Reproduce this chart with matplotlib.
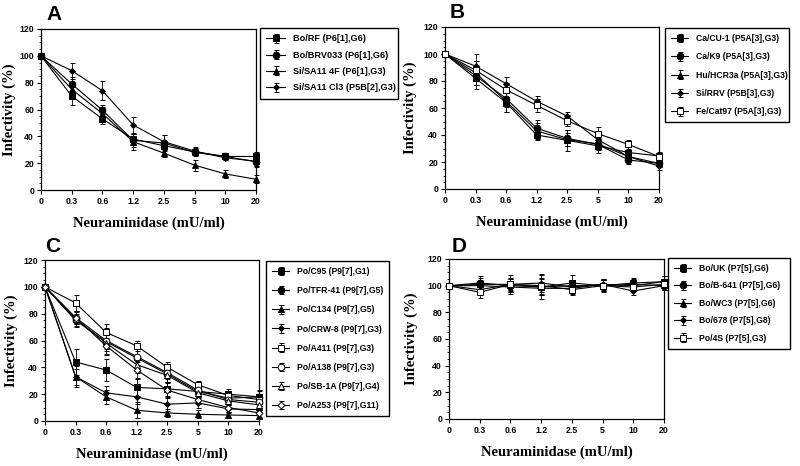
"""
Neuraminidase sensitivity of rotavirus strains, four panels.
"""

import matplotlib.pyplot as plt
from matplotlib.ticker import MultipleLocator

plt.rcParams["font.family"] = ["Liberation Sans", "DejaVu Sans"]

doses = ["0", "0.3", "0.6", "1.2", "2.5", "5", "10", "20"]

# Panel A
a_labels = ["Bo/RF (P6[1],G6)", "Bo/BRV033 (P6[1],G6)",
            "Si/SA11 4F (P6[1],G3)", "Si/SA11 Cl3 (P5B[2],G3)"]
a_vals = [
    [100, 70, 53, 38, 33, 28.5, 25, 25],
    [100, 79, 59.5, 37, 35, 28, 25, 21],
    [100, 75, 57, 36, 27.5, 18.5, 12, 8],
    [100, 89, 74, 48.5, 36, 29, 24, 21.5],
]
a_errs = [
    [0, 7, 4, 4, 3, 3, 2, 3],
    [0, 5, 4, 5, 6, 2, 2, 3],
    [0, 4, 5, 6, 3, 4, 3, 3],
    [0, 6, 7, 6, 5, 3, 2, 4],
]

# Panel B
b_labels = ["Ca/CU-1 (P5A[3],G3)", "Ca/K9 (P5A[3],G3)",
            "Hu/HCR3a (P5A[3],G3)", "Si/RRV (P5B[3],G3)",
            "Fe/Cat97 (P5A[3],G3)"]
b_vals = [
    [100, 82, 64, 40, 36, 32, 27, 24.5],
    [100, 84, 67, 45, 37.5, 33, 21.5, 19],
    [100, 86, 65, 43, 36.5, 33.5, 24, 19],
    [100, 91, 78, 65, 54, 36.5, 24, 17],
    [100, 88, 73.5, 62, 50.5, 41, 33, 24],
]
b_errs = [
    [0, 8, 7, 4, 8, 5, 4, 3],
    [0, 7, 6, 6, 6, 4, 3, 3],
    [0, 9, 8, 6, 5, 4, 4, 3],
    [0, 9, 5, 4, 3, 5, 3, 3],
    [0, 7, 5, 5, 4, 5, 3, 3],
]

# Panel C
c_labels = ["Po/C95 (P9[7],G1)", "Po/TFR-41 (P9[7],G5)",
            "Po/C134 (P9[7],G5)", "Po/CRW-8 (P9[7],G3)",
            "Po/A411 (P9[7],G3)", "Po/A138 (P9[7],G3)",
            "Po/SB-1A (P9[7],G4)", "Po/A253 (P9[7],G11)"]
c_vals = [
    [100, 44, 38, 25, 24, 22, 20, 18],
    [100, 75, 59, 47, 35, 22, 17, 18],
    [100, 33, 18, 8, 6, 5, 4.5, 4],
    [100, 33, 21, 18, 12.5, 13.5, 9, 8.5],
    [100, 88, 66, 56, 40, 27, 19, 16],
    [100, 77, 60, 48, 36, 23, 16, 14],
    [100, 76, 58, 42, 34, 21, 15, 12],
    [100, 77, 56, 38, 23, 16, 10, 6],
]
c_errs = [
    [0, 10, 8, 6, 5, 4, 4, 5],
    [0, 5, 10, 10, 6, 3, 3, 4],
    [0, 8, 5, 6, 3, 3, 2, 2],
    [0, 6, 5, 5, 5, 4, 3, 3],
    [0, 6, 6, 4, 4, 3, 3, 3],
    [0, 5, 6, 6, 5, 3, 3, 3],
    [0, 5, 6, 6, 5, 3, 3, 3],
    [0, 5, 6, 6, 5, 3, 3, 3],
]

# Panel D
d_labels = ["Bo/UK (P7[5],G6)", "Bo/B-641 (P7[5],G6)",
            "Bo/WC3 (P7[5],G6)", "Bo/678 (P7[5],G8)", "Po/4S (P7[5],G3)"]
d_vals = [
    [100, 101, 101, 99, 102, 100, 102, 103],
    [100, 102, 100, 99, 100, 100, 101, 100],
    [100, 97, 101, 102, 99, 101, 100, 103],
    [100, 100, 99, 98, 98, 101, 96, 100],
    [100, 95, 101, 100, 97, 100, 99, 101],
]
d_errs = [
    [0, 5, 7, 9, 6, 5, 4, 4],
    [0, 5, 5, 6, 4, 4, 4, 3],
    [0, 4, 5, 7, 5, 4, 3, 4],
    [0, 4, 4, 5, 3, 3, 3, 3],
    [0, 4, 4, 6, 4, 4, 3, 3],
]

# marker style per series (filled then open)
STYLES = [
    dict(marker="s", ms=4.8, mfc="black"),
    dict(marker="o", ms=4.8, mfc="black"),
    dict(marker="^", ms=4.8, mfc="black"),
    dict(marker="D", ms=3, mfc="black"),
    dict(marker="s", ms=4.8, mfc="white"),
    dict(marker="o", ms=4.8, mfc="white"),
    dict(marker="^", ms=4.8, mfc="white"),
    dict(marker="D", ms=3.5, mfc="white"),
]

SERIF = ["Liberation Serif", "DejaVu Serif"]


def draw_panel(fig, rect, letter, labels, vals, errs, leg_rect, ylab_x,
               letter_xy, leg_fs, leg_sp):
    ax = fig.add_axes(rect)
    x = list(range(len(doses)))
    for i, (lab, v, e) in enumerate(zip(labels, vals, errs)):
        st = STYLES[i]
        ax.errorbar(x, v, yerr=e, color="black", lw=0.8, elinewidth=0.6,
                    capsize=1.8, capthick=0.6, marker=st["marker"],
                    ms=st["ms"], mfc=st["mfc"], mec="black", mew=0.7,
                    label=lab, clip_on=False, zorder=3)
    ax.set_xlim(0, len(doses) - 1)
    ax.set_ylim(0, 120)
    ax.set_xticks(x)
    ax.set_xticklabels(doses)
    ax.yaxis.set_major_locator(MultipleLocator(20))
    ax.yaxis.set_minor_locator(MultipleLocator(5))
    ax.tick_params(axis="both", which="major", labelsize=6.3, length=3,
                   width=0.8, pad=2)
    ax.tick_params(axis="y", which="minor", length=1.5, width=0.6)
    for t in ax.get_xticklabels() + ax.get_yticklabels():
        t.set_fontweight("bold")
    for s in ax.spines.values():
        s.set_linewidth(0.9)
    ax.set_ylabel("Infectivity (%)", family=SERIF, fontweight="bold",
                  fontsize=10.5)
    ax.yaxis.set_label_coords(ylab_x, 0.5)
    ax.set_xlabel("Neuraminidase (mU/ml)", family=SERIF, fontweight="bold",
                  fontsize=10.5)
    ax.xaxis.set_label_coords(0.5, -0.165)

    leg = ax.legend(loc="upper left", bbox_to_anchor=leg_rect,
                    bbox_transform=fig.transFigure, mode="expand",
                    prop=dict(weight="bold", size=leg_fs),
                    handlelength=2.0, handletextpad=0.9,
                    labelspacing=leg_sp, borderpad=0.7, borderaxespad=0,
                    fancybox=False, frameon=True, edgecolor="black",
                    framealpha=1)
    leg.get_frame().set_linewidth(1.0)
    fig.text(letter_xy[0], letter_xy[1], letter, fontsize=15,
             fontweight="bold", va="center", ha="left")
    return ax


def main():
    W, H = 800, 466
    fig = plt.figure(figsize=(8, 4.66), dpi=100)

    def rect(l, r, t, b):
        return [l / W, (H - b) / H, (r - l) / W, (b - t) / H]

    def lrect(l, r, t):
        return (l / W, (H - t) / H, (r - l) / W, 0)

    draw_panel(fig, rect(41, 256, 29, 190), "A", a_labels, a_vals, a_errs,
               lrect(260, 398, 28), -0.118, (46 / W, (H - 14) / H),
               6.6, 0.8)
    draw_panel(fig, rect(445, 659, 27, 189), "B", b_labels, b_vals, b_errs,
               lrect(665, 789, 28), -0.13, (450 / W, (H - 12) / H),
               6.2, 1.08)
    draw_panel(fig, rect(45, 259, 260, 421), "C", c_labels, c_vals, c_errs,
               lrect(266, 389, 261), -0.128, (45 / W, (H - 246) / H),
               6.2, 1.18)
    draw_panel(fig, rect(449, 664, 259, 419), "D", d_labels, d_vals, d_errs,
               lrect(668, 790, 258), -0.145, (452 / W, (H - 246) / H),
               6.2, 0.98)

    fig.savefig("out.png", dpi=100)


if __name__ == "__main__":
    main()
